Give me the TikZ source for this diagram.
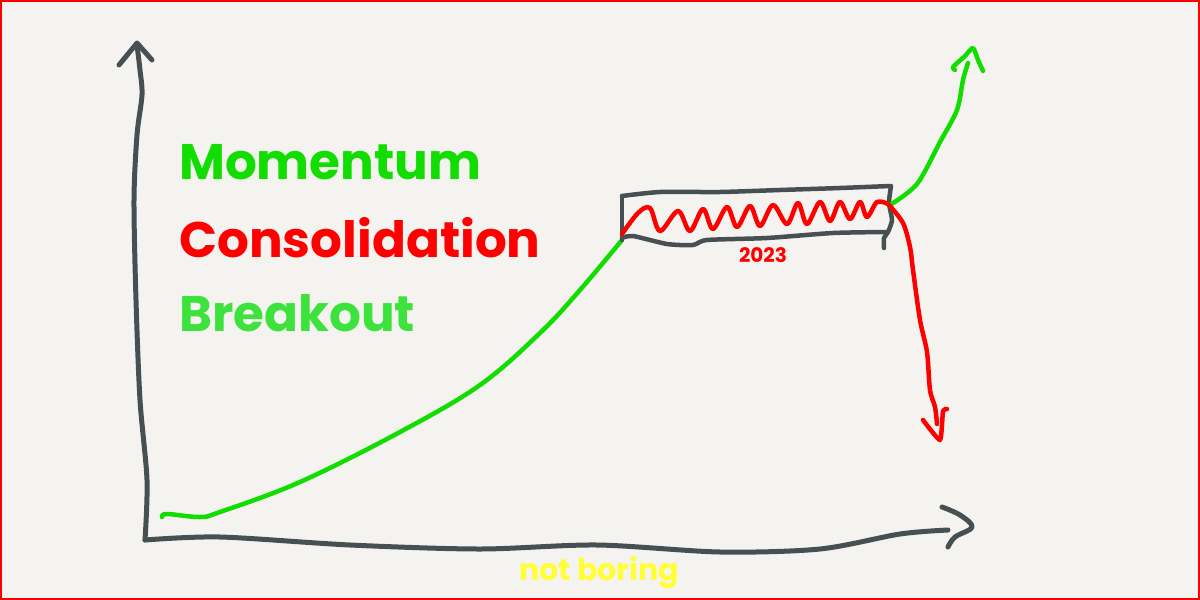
\documentclass[tikz,border=0pt]{standalone}
\usepackage{fontspec}
\setmainfont{Poppins}[BoldFont={Poppins Bold}]
\definecolor{bg}{HTML}{F5F3EF}
\definecolor{axisgray}{HTML}{465052}
\definecolor{mgreen}{HTML}{11DD00}
\definecolor{bgreen}{HTML}{3DE23D}
\definecolor{cred}{HTML}{FF0000}
\definecolor{nbyellow}{HTML}{FFFF33}
\tikzset{
  axisline/.style={draw=axisgray, line width=5pt, line cap=round, line join=round},
  boxline/.style={draw=axisgray, line width=4.5pt, line cap=round, line join=round},
  greenline/.style={draw=mgreen, line width=4.5pt, line cap=round, line join=round},
  redline/.style={draw=cred, line width=4.5pt, line cap=round, line join=round},
  bigword/.style={font=\bfseries\fontsize{50}{60}\selectfont, anchor=west, inner sep=0pt},
}
\begin{document}
\begin{tikzpicture}[x=1pt,y=-1pt]
\useasboundingbox (0,0) rectangle (1200,600);
\fill[bg] (0,0) rectangle (1200,600);
\draw[cred, line width=2pt] (1,1) rectangle (1199,599);

% axes
\draw[axisline] plot[smooth, tension=0.5] coordinates {(137,45) (140,70) (142,95) (137,135) (134,200) (136,300) (140,400) (147,480) (145,540)};
\draw[axisline] (119,65) -- (137,43) -- (152,60);
\draw[axisline] plot[smooth, tension=0.5] coordinates {(145,540) (220,537) (350,545) (480,549) (597,545) (720,552) (820,549) (900,534) (948,530)};
\draw[axisline] plot[smooth, tension=0.6] coordinates {(942,507) (960,515) (972,527) (955,537) (948,547)};

% momentum curve
\draw[greenline] plot[smooth, tension=0.6] coordinates {(162,517) (167,514) (200,517) (220,512) (300,482) (400,432) (480,385) (540,333) (580,290) (622,240)};

% consolidation box
\draw[boxline] plot[smooth, tension=0.4] coordinates {(622,196) (660,192) (720,192) (780,190) (840,188) (890,186)};
\draw[boxline] (622,196) -- (622,240);
\draw[boxline] plot[smooth, tension=0.4] coordinates {(622,238) (633,236) (667,244) (693,245) (707,240) (767,238) (833,233) (887,232)};
\draw[boxline] plot[smooth, tension=0.4] coordinates {(891,186) (889,203) (892,220) (888,232) (884,238) (884,248)};

% squiggle
\draw[redline] plot[smooth, tension=0.55] coordinates {(622,234) (638,213) (650,208) (660,231) (678,211) (690,231) (703,209) (713,229) (727,207) (737,227) (750,206) (760,226) (773,205) (787,224) (798,203) (807,224) (820,202) (830,221) (840,202) (850,219) (860,202) (867,217) (877,202) (888,204)};

% breakout up
\draw[greenline] plot[smooth, tension=0.5] coordinates {(890,205) (917,184) (940,142) (957,110) (963,80) (968,63)};
\draw[greenline] plot[smooth, tension=0.4] coordinates {(955,70) (953,67) (965,56) (973,48) (978,60) (983,71)};

% breakdown
\draw[redline] plot[smooth, tension=0.5] coordinates {(889,205) (903,223) (910,247) (913,270) (920,320) (927,352) (930,390) (935,407) (937,424)};
\draw[redline] plot[smooth, tension=0.3] coordinates {(923,420) (940,440) (943,411) (947,409)};

% labels
\node[bigword, text=mgreen] (momentum) at (179,162) {Momentum};
\node[bigword, text=cred] (consolidation) at (179,238) {Consolidation};
\node[bigword, text=bgreen] (breakout) at (179,313) {Breakout};
\node[font=\bfseries\fontsize{20}{24}\selectfont, text=cred, inner sep=0pt] (year) at (763,255) {2023};
\node[font=\bfseries\fontsize{30}{34}\selectfont, text=nbyellow, inner sep=0pt] (notboring) at (599,573) {not boring};
\end{tikzpicture}
\end{document}
